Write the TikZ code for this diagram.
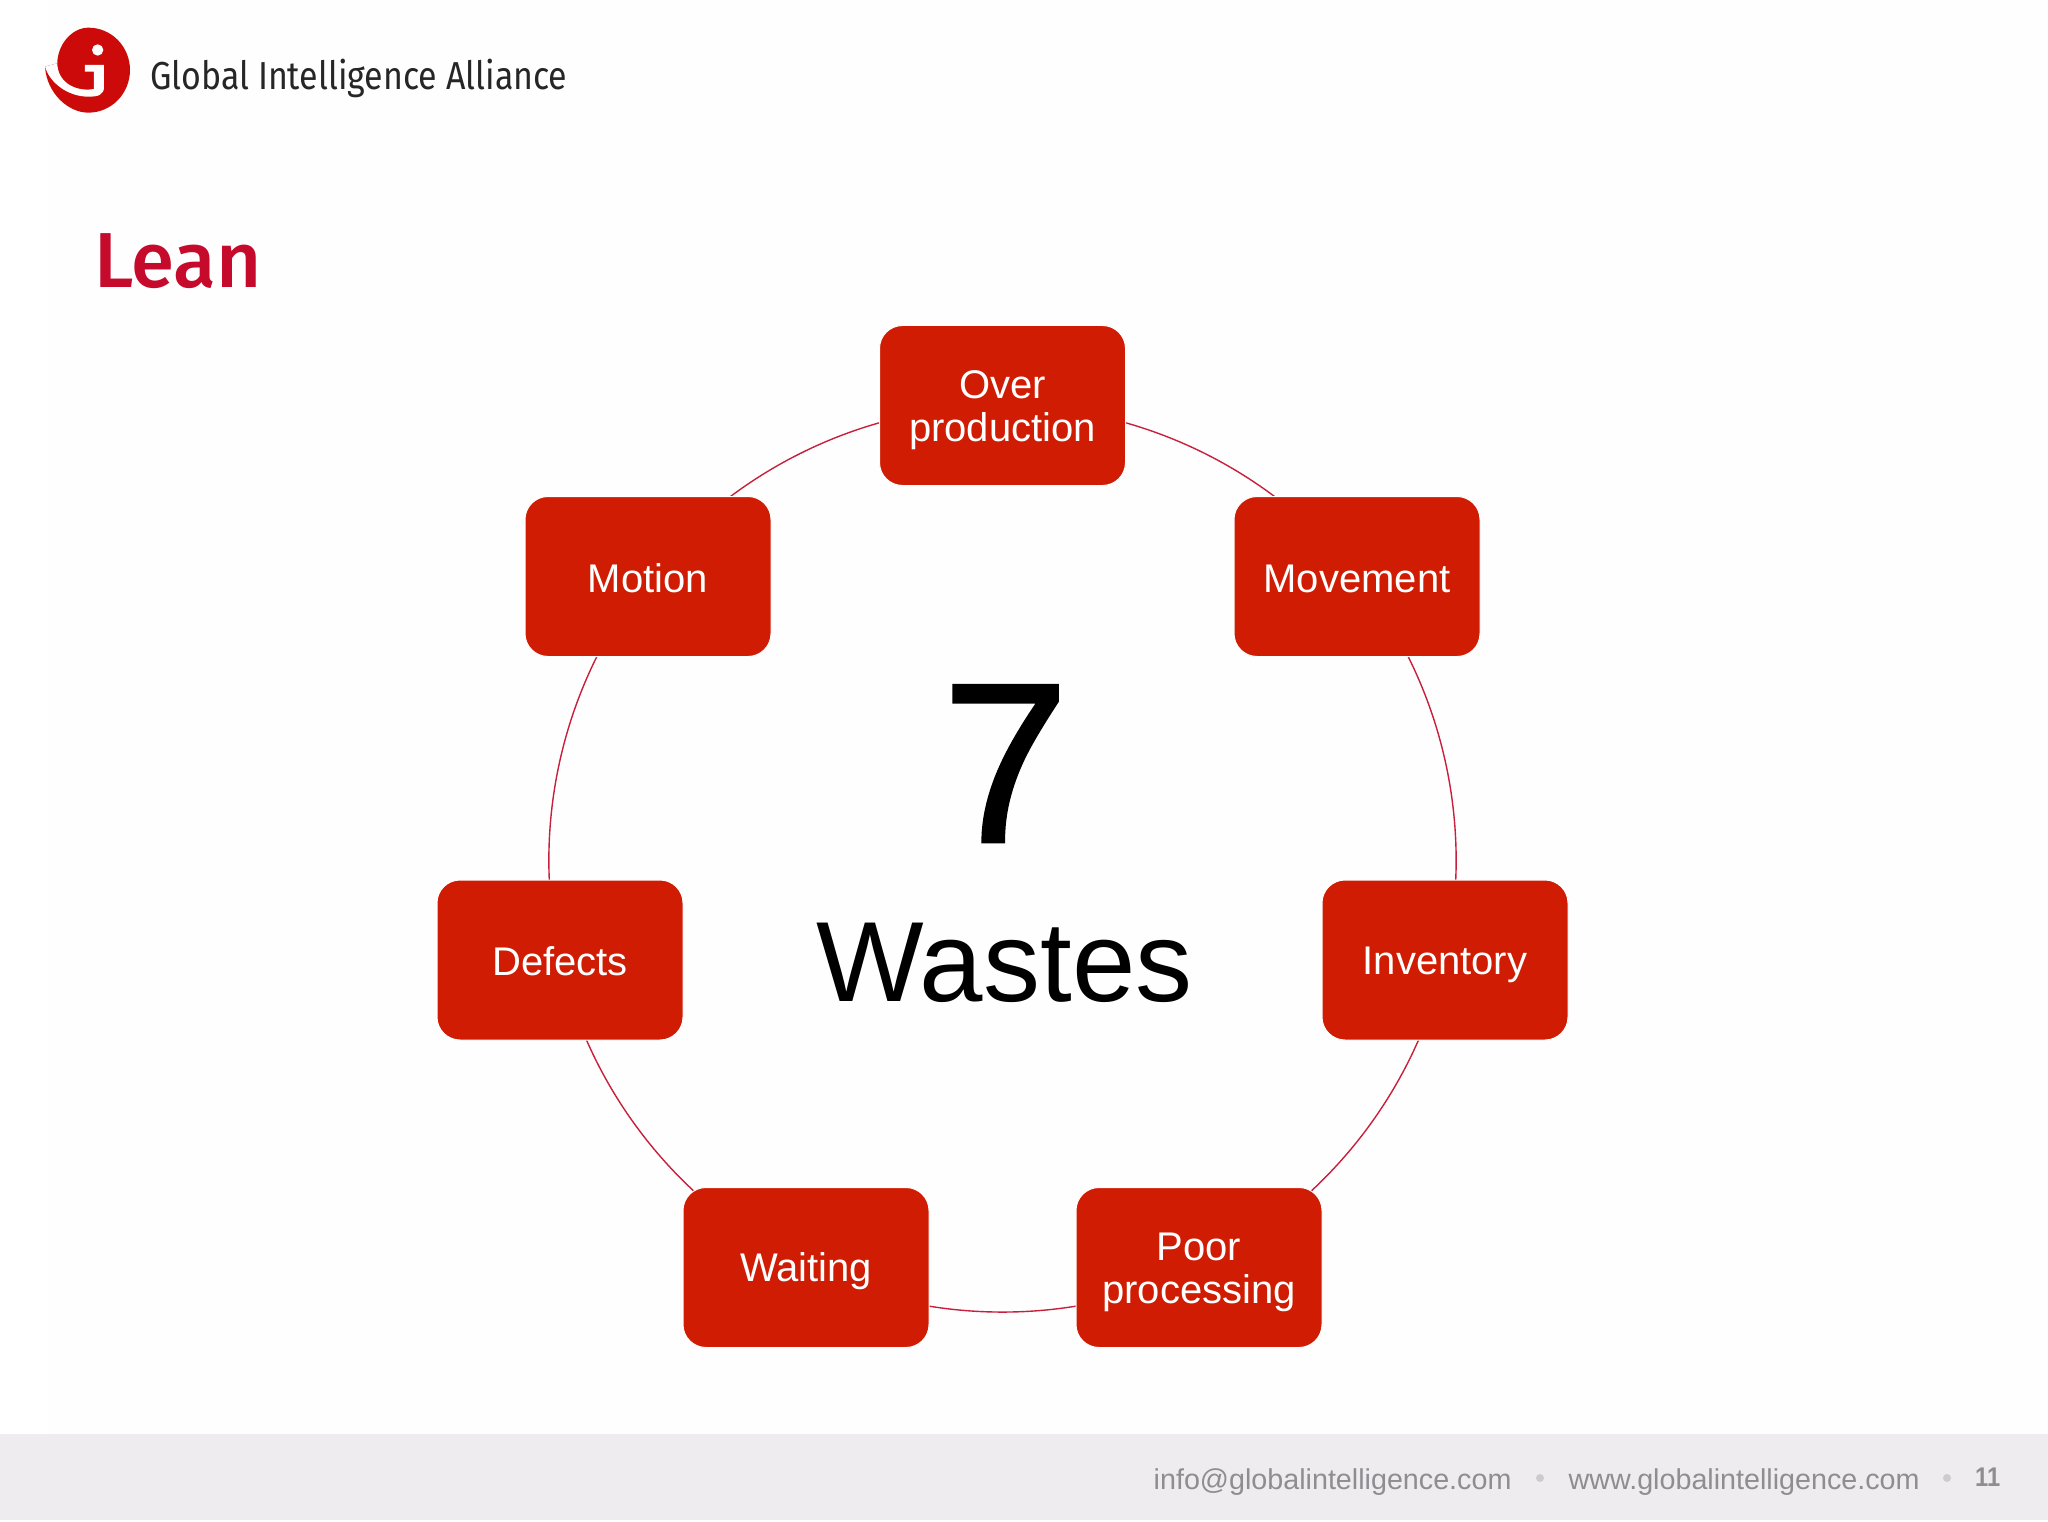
\documentclass[tikz,border=0pt]{standalone}
\usepackage{fontspec}
\usetikzlibrary{backgrounds}
\setmainfont{Liberation Sans}
\newfontfamily\brandfont{Fira Sans}
\newfontfamily\brandbold{Fira Sans Medium}
\newfontfamily\heavyfont[FakeBold=1.2]{Liberation Sans}
\newcommand{\wastestrut}{\rule[-6pt]{0pt}{43pt}}
\definecolor{boxred}{HTML}{CF1C02}
\definecolor{logored}{HTML}{CC0A0A}
\definecolor{titlered}{HTML}{C50A2B}
\definecolor{ringred}{HTML}{C8203C}
\definecolor{footgray}{HTML}{EEECEE}
\definecolor{foottext}{HTML}{8F8D91}
\definecolor{slidewhite}{HTML}{FEFEFE}

\begin{document}
\begin{tikzpicture}[
    x=1pt, y=-1pt,
    waste/.style={rectangle, rounded corners=23pt, fill=boxred, draw=white, line width=1pt,
        minimum width=246pt, minimum height=160pt, align=center, text=white,
        font=\fontsize{40}{43}\selectfont,
        execute at begin node=\wastestrut, execute at end node=\wastestrut},
    twolines/.style={execute at begin node=\rule[-6pt]{0pt}{86pt}},
    ring/.style={draw, color=ringred, line width=1.4pt, bend left=25.7, looseness=0.894},
    foot/.style={anchor=base west, inner sep=0pt, text=foottext, font=\fontsize{28.7}{32}\selectfont},
    footdot/.style={circle, fill=black!20, inner sep=0pt, minimum size=8pt}
]
\useasboundingbox (0,0) rectangle (2048,1522);

% Define waste boxes
\node[waste, twolines] (over) at (1002.5,405.5) {Over\\production};
\node[waste] (movement) at (1357,576.5) {Movement};
\node[waste] (inventory) at (1445,960) {Inventory};
\node[waste, twolines] (poor) at (1199,1267.5) {Poor\\processing};
\node[waste] (waiting) at (806,1267.5) {Waiting};
\node[waste] (defects) at (560,960) {Defects};
\node[waste] (motion) at (648,576.5) {Motion};

% Center labels
\node[font=\heavyfont\fontsize{228}{228}\selectfont, inner sep=0pt, anchor=base] (seven) at (1005.5,842) {7};
\node[font=\fontsize{114}{114}\selectfont, inner sep=0pt, anchor=base] (wastes) at (1004.5,1001) {Wastes};

% Ring behind the boxes
\begin{scope}[on background layer]
\fill[white] (0,0) rectangle (2048,1522);
\fill[slidewhite] (48,0) rectangle (2048,1434);
\fill[footgray] (0,1434) rectangle (2048,1520);
\draw[ring] (over.center) to (movement.center);
\draw[ring] (movement.center) to (inventory.center);
\draw[ring] (inventory.center) to (poor.center);
\draw[ring] (poor.center) to (waiting.center);
\draw[ring] (waiting.center) to (defects.center);
\draw[ring] (defects.center) to (motion.center);
\draw[ring] (motion.center) to (over.center);
\end{scope}

% Logo
\begin{scope}[shift={(30,15)}, x=0.3333pt, y=-0.3333pt]
\fill[logored] (45,155) .. controls (50,235) and (115,293) .. (175,293)
    .. controls (245,293) and (300,235) .. (300,165)
    .. controls (300,95) and (245,38) .. (175,38)
    .. controls (125,38) and (82,90) .. (82,145) -- cycle;
\fill[white] (45,155) .. controls (60,205) and (115,245) .. (175,245)
    .. controls (205,245) and (222,240) .. (222,215) -- (222,150) -- (165,150) -- (165,170)
    -- (192,170) -- (192,222) .. controls (135,232) and (82,200) .. (82,145) -- cycle;
\fill[white] (203,105) circle (17);
\end{scope}

% Heading texts
\node[anchor=base west, inner sep=0pt, text=black!85, font=\brandfont\fontsize{39}{39}\selectfont, xscale=0.87] (brand) at (150,90) {Global Intelligence Alliance};
\node[anchor=base west, inner sep=0pt, text=titlered, font=\brandbold\fontsize{78}{78}\selectfont] (title) at (94,288) {Lean};

% Footer texts
\node[foot] (mail) at (1153.5,1489) {info@globalintelligence.com};
\node[footdot] (dotone) at (1540,1478) {};
\node[foot] (web) at (1568.5,1489) {www.globalintelligence.com};
\node[footdot] (dottwo) at (1947,1478) {};
\node[foot, font=\fontsize{27}{27}\selectfont\bfseries, xscale=0.88] (page) at (1975,1486) {11};
\end{tikzpicture}
\end{document}
